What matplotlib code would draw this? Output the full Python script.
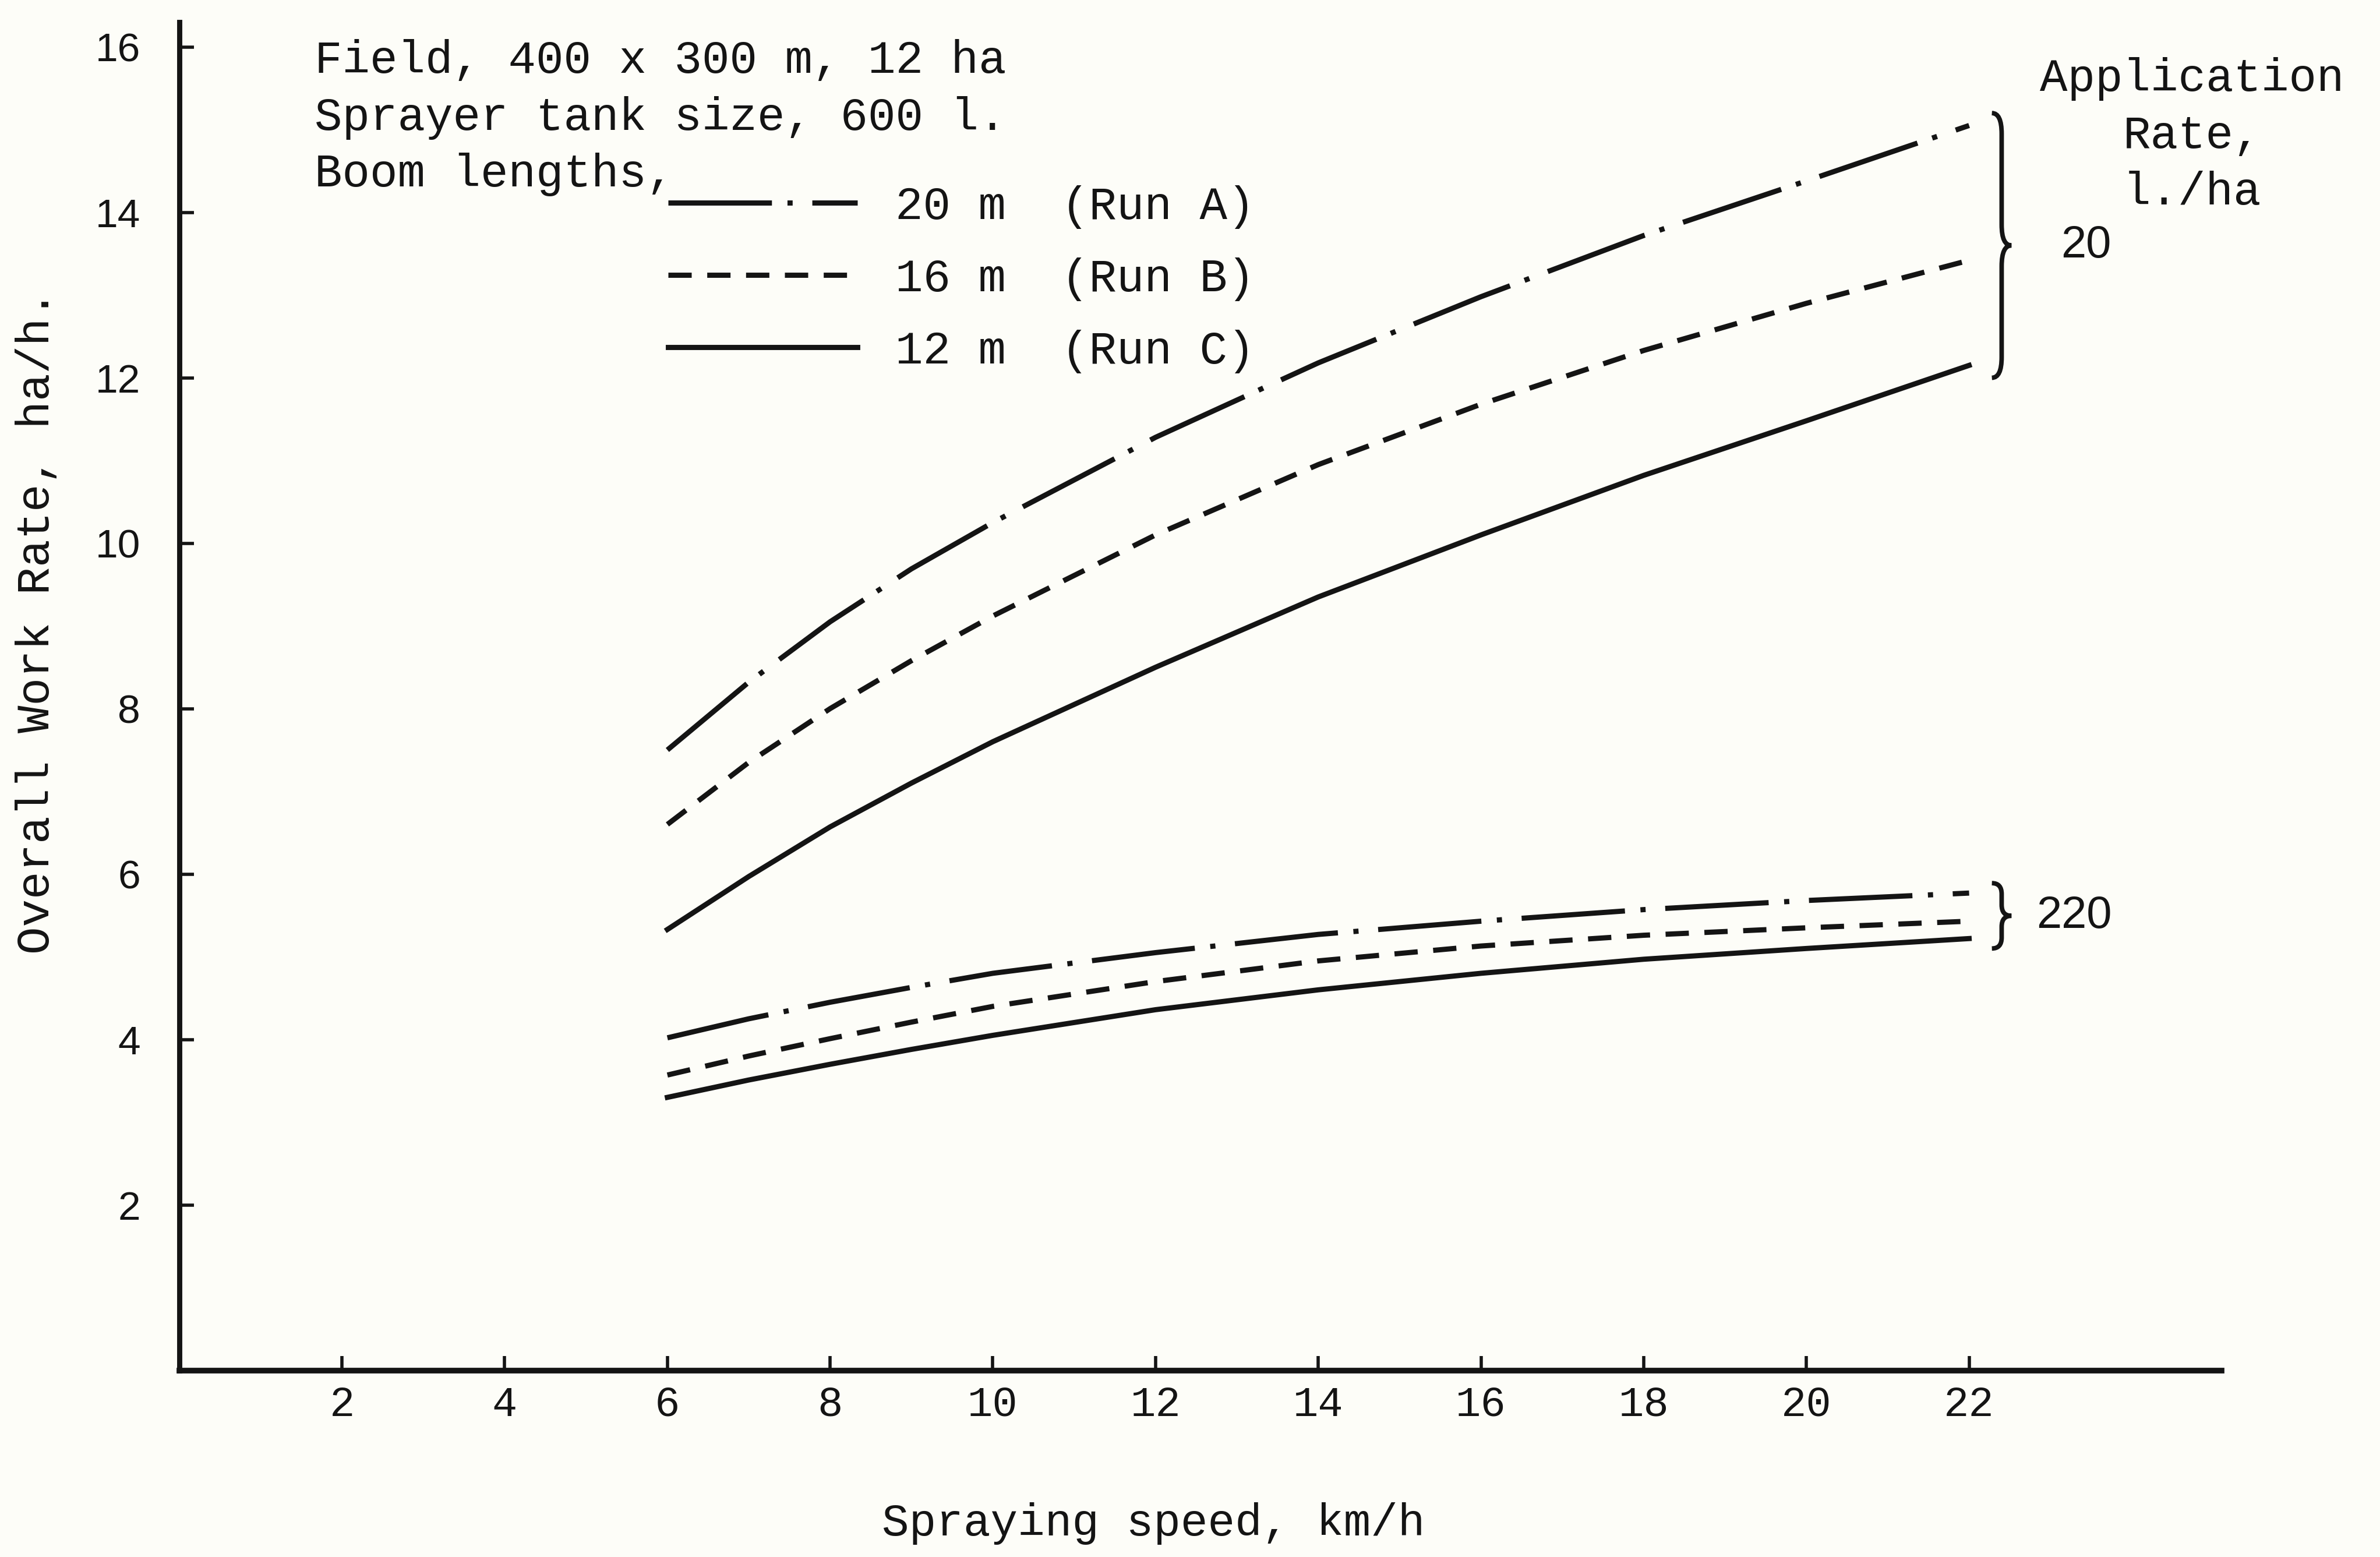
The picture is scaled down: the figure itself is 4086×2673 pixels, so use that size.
import matplotlib
matplotlib.use("Agg")
import matplotlib.pyplot as plt
from matplotlib.path import Path
from matplotlib.patches import PathPatch

# Spraying speed, km/h
speed = [6, 7, 8, 9, 10, 12, 14, 16, 18, 20, 22]

# Overall work rate, ha/h -- application rate 20 l/ha
run_a_20 = [7.50, 8.32, 9.05, 9.69, 10.25, 11.28, 12.18, 12.98, 13.72, 14.38, 15.05]
run_b_20 = [6.60, 7.35, 8.00, 8.58, 9.12, 10.10, 10.95, 11.68, 12.33, 12.90, 13.42]
run_c_20 = [5.33, 5.97, 6.57, 7.10, 7.60, 8.50, 9.35, 10.10, 10.82, 11.48, 12.15]

# Overall work rate, ha/h -- application rate 220 l/ha
run_a_220 = [4.02, 4.25, 4.45, 4.63, 4.80, 5.05, 5.27, 5.43, 5.57, 5.68, 5.77]
run_b_220 = [3.57, 3.80, 4.01, 4.21, 4.40, 4.70, 4.95, 5.13, 5.26, 5.35, 5.43]
run_c_220 = [3.30, 3.51, 3.70, 3.88, 4.05, 4.36, 4.60, 4.80, 4.97, 5.10, 5.22]

run_labels = ["20 m  (Run A)", "16 m  (Run B)", "12 m  (Run C)"]
rate_labels = ["20", "220"]
x_ticks = [2, 4, 6, 8, 10, 12, 14, 16, 18, 20, 22]
y_ticks = [2, 4, 6, 8, 10, 12, 14, 16]
notes = ["Field, 400 x 300 m, 12 ha", "Sprayer tank size, 600 l.", "Boom lengths,"]
rate_title = ["Application", "Rate,", "l./ha"]

MONO = "Liberation Mono"
SANS = "Liberation Sans"
INK = "#141414"
PAPER = "#fdfdf8"

# line styles per boom length (dash patterns in linewidth units)
STYLE_A = (0, (20, 3.0, 1, 3.8))
STYLE_B = (0, (4.5, 3))
STYLE_C = "-"
LW = 3.2


def draw_brace(ax, x, y0, y1, w=0.12):
    """Right-facing curly brace from y0 to y1 at data x."""
    ym = (y0 + y1) / 2
    d = min(0.25, (y1 - y0) / 6)
    verts = [(x - w, y1), (x, y1), (x, y1 - d),
             (x, ym + d), (x, ym), (x + w, ym),
             (x, ym), (x, ym - d),
             (x, y0 + d), (x, y0), (x - w, y0)]
    codes = [Path.MOVETO, Path.CURVE3, Path.CURVE3,
             Path.LINETO, Path.CURVE3, Path.CURVE3,
             Path.CURVE3, Path.CURVE3,
             Path.LINETO, Path.CURVE3, Path.CURVE3]
    ax.add_patch(PathPatch(Path(verts, codes), fill=False, lw=2.8,
                           edgecolor=INK, clip_on=False))
    return ym


fig = plt.figure(figsize=(20.435, 13.365), dpi=200)
fig.patch.set_facecolor(PAPER)
ax = fig.add_axes([0.0753, 0.1199, 0.8578, 0.8659])
ax.set_facecolor(PAPER)

# 20 l/ha group
la, = ax.plot(speed, run_a_20, color=INK, lw=LW, linestyle=STYLE_A)
lb, = ax.plot(speed, run_b_20, color=INK, lw=LW, linestyle=STYLE_B)
lc, = ax.plot(speed, run_c_20, color=INK, lw=LW, linestyle=STYLE_C)

# 220 l/ha group
ax.plot(speed, run_a_220, color=INK, lw=LW, linestyle=STYLE_A)
ax.plot(speed, run_b_220, color=INK, lw=LW, linestyle=STYLE_B)
ax.plot(speed, run_c_220, color=INK, lw=LW, linestyle=STYLE_C)

ax.set_xlim(0, 25.1)
ax.set_ylim(0, 16.3)
ax.set_xticks(x_ticks)
ax.set_yticks(y_ticks)
ax.set_xticklabels([str(v) for v in x_ticks], family=MONO, fontsize=26, color=INK)
ax.set_yticklabels([str(v) for v in y_ticks], family=SANS, fontsize=25, color=INK)
ax.tick_params(axis="y", direction="in", length=9, width=2, pad=24, colors=INK)
ax.tick_params(axis="x", direction="in", length=9, width=2, pad=9, colors=INK)

for side in ["top", "right"]:
    ax.spines[side].set_visible(False)
ax.spines["left"].set_linewidth(3.2)
ax.spines["bottom"].set_linewidth(3.5)
ax.spines["left"].set_color(INK)
ax.spines["bottom"].set_color(INK)

ax.set_xlabel("Spraying speed, km/h", family=MONO, fontsize=28, color=INK)
ax.xaxis.set_label_coords(0.477, -0.098)
ax.set_ylabel("Overall Work Rate, ha/h.", family=MONO, fontsize=28.5, color=INK)
ax.yaxis.set_label_coords(-0.059, 0.555)

# typed notes, top left
for txt, yy in zip(notes, [15.83, 15.14, 14.46]):
    ax.text(1.66, yy, txt, family=MONO, fontsize=28.5, color=INK,
            ha="left", va="center")

ax.legend([la, lb, lc], run_labels, loc="upper left",
          bbox_to_anchor=(0.2394, 0.879), frameon=False,
          prop={"family": MONO, "size": 28.5}, handlelength=4.1,
          handletextpad=0.82, labelspacing=0.62, borderpad=0,
          borderaxespad=0, labelcolor=INK)

# application-rate braces at the right-hand ends
brace_x = speed[-1] + 0.4
groups = [(run_a_20, run_b_20, run_c_20), (run_a_220, run_b_220, run_c_220)]
label_dx = [0.73, 0.43]
for grp, lab, dx in zip(groups, rate_labels, label_dx):
    ends = [g[-1] for g in grp]
    pad = 0.15 if lab == "20" else 0.12
    ym = draw_brace(ax, brace_x, min(ends) - pad, max(ends) + pad)
    ax.text(brace_x + dx, ym, lab, family=SANS, fontsize=28, color=INK,
            ha="left", va="center")

for txt, yy in zip(rate_title, [15.61, 14.92, 14.24]):
    ax.text(24.74, yy, txt, family=MONO, fontsize=28.5, color=INK,
            ha="center", va="center")

fig.savefig("out.png", dpi=200, facecolor=PAPER)
